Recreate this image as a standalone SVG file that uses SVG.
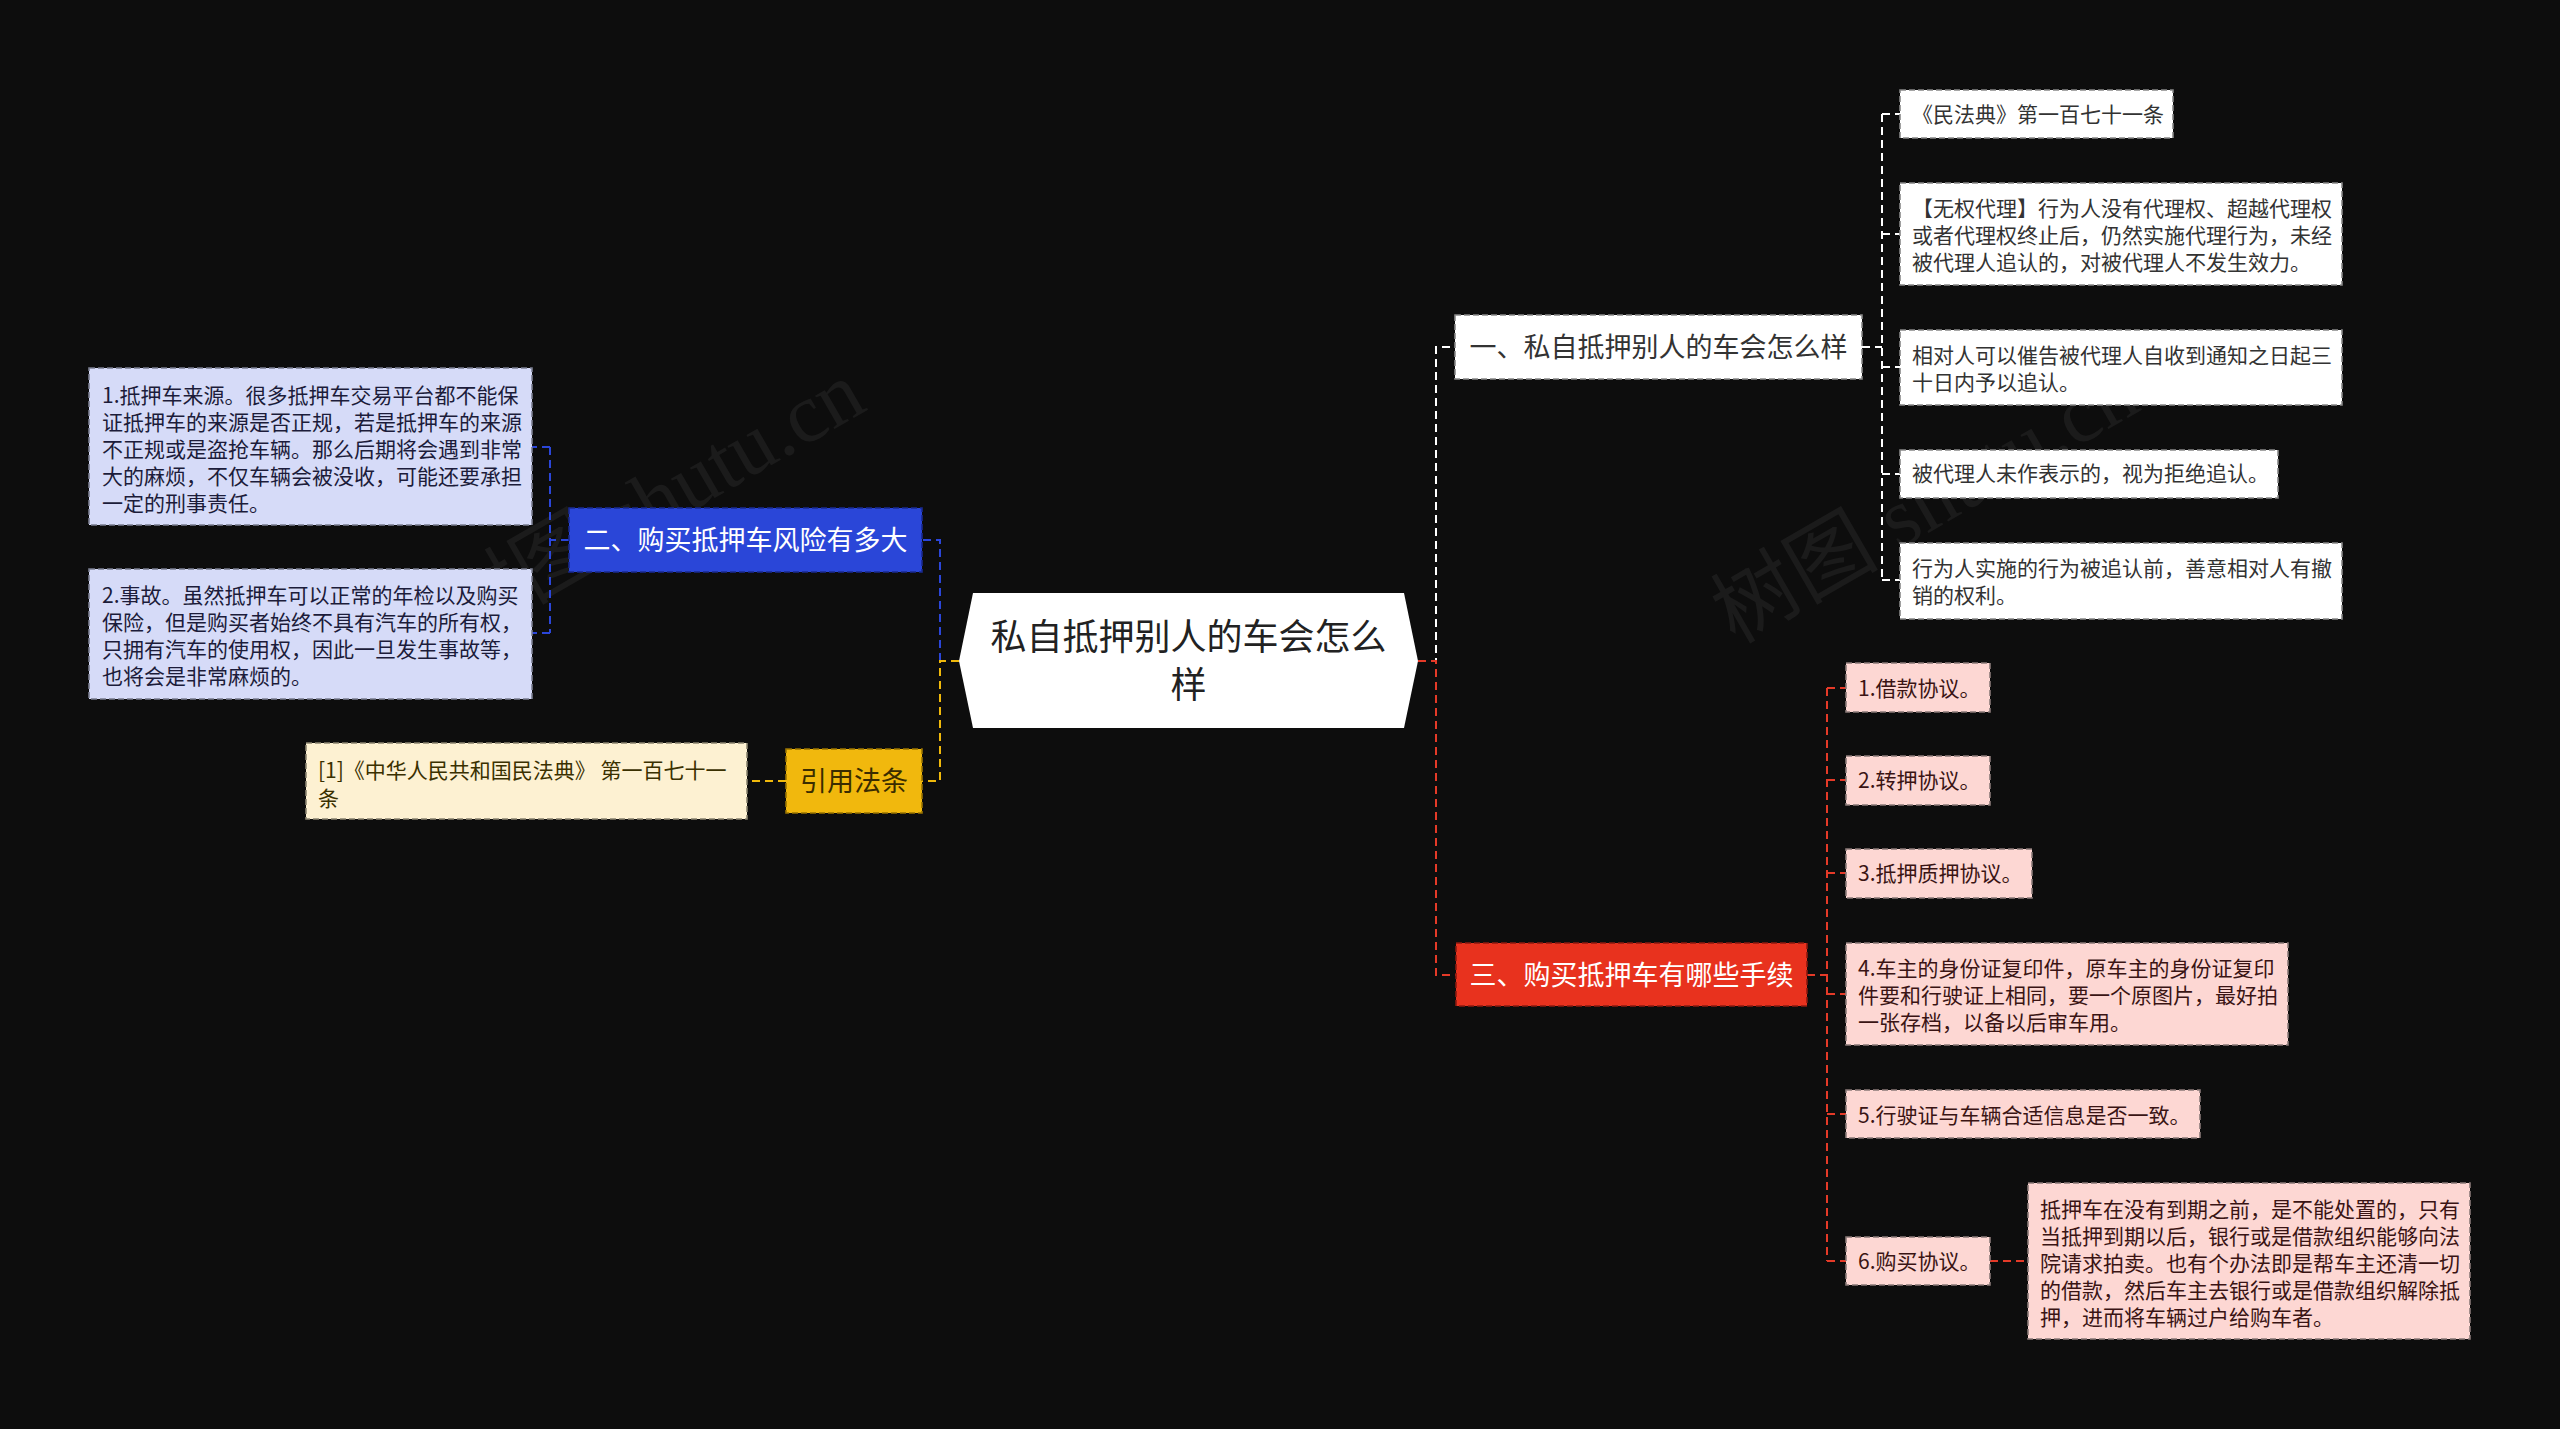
<svg xmlns="http://www.w3.org/2000/svg" width="2560" height="1429" viewBox="0 0 2560 1429">
<style>
text{font-family:"Noto Sans CJK SC","Noto Sans",sans-serif}
.c{fill:none;stroke-width:2;stroke-dasharray:8 5}
.cb{stroke:#2b46d9}.cy{stroke:#f0b90b}.cw{stroke:#ffffff}.cr{stroke:#e43a28}
.box{stroke-width:1.6;stroke-dasharray:6 3}
.d{font-size:21px}
.l1{font-size:27px}
.wm{font-family:"Liberation Serif","Noto Sans CJK SC",serif;font-size:84px;fill:#ffffff;fill-opacity:0.06}
</style>
<rect x="0" y="0" width="2560" height="1429" fill="#0d0d0d"/>
<g id="watermarks">
<text class="wm" x="653" y="530" text-anchor="middle" transform="rotate(-30 653 506)">树图 shutu.cn</text>
<text class="wm" x="1927" y="530" text-anchor="middle" transform="rotate(-30 1927 506)">树图 shutu.cn</text>
</g>
<g id="connectors">
<path class="c cb" d="M940,661 V540 H922"/>
<path class="c cy" d="M959,661 H940 V781 H922"/>
<path class="c cb" d="M569,540 H550 M550,447 V633 M550,447 H532 M550,633 H532"/>
<path class="c cy" d="M786,781 H747"/>
<path class="c cw" d="M1418,661 H1436 V347 H1455"/>
<path class="c cr" d="M1418,661 H1436 V975 H1456"/>
<path class="c cw" d="M1862,347 H1882 M1882,114 V580 M1882,114 H1900 M1882,234 H1900 M1882,367 H1900 M1882,474 H1900 M1882,580 H1900"/>
<path class="c cr" d="M1807,975 H1827 M1827,688 V1261 M1827,688 H1846 M1827,780 H1846 M1827,873 H1846 M1827,994 H1846 M1827,1114 H1846 M1827,1261 H1846 M1990,1261 H2028"/>
</g>
<g id="root">
<polygon points="973,593 1404,593 1418,661 1404,728 973,728 959,661" fill="#ffffff"/>
<text x="1188.5" y="650" text-anchor="middle" font-size="36" fill="#222222">私自抵押别人的车会怎么</text>
<text x="1188.5" y="698" text-anchor="middle" font-size="36" fill="#222222">样</text>
</g>
<g id="n2">
<rect class="box" x="569" y="508" width="353" height="64" fill="#2a46d8" stroke="#1a2a90"/>
<text class="l1" x="745.5" y="550" text-anchor="middle" fill="#ffffff">二、购买抵押车风险有多大</text>
</g>
<g id="n2a">
<rect class="box" x="89" y="368" width="443" height="157" fill="#d6dbf8" stroke="#7a7d90"/>
<text class="d" fill="#1c1c3a"><tspan x="102" y="403">1.抵押车来源。很多抵押车交易平台都不能保</tspan><tspan x="102" y="430">证抵押车的来源是否正规，若是抵押车的来源</tspan><tspan x="102" y="457">不正规或是盗抢车辆。那么后期将会遇到非常</tspan><tspan x="102" y="484">大的麻烦，不仅车辆会被没收，可能还要承担</tspan><tspan x="102" y="511">一定的刑事责任。</tspan></text>
</g>
<g id="n2b">
<rect class="box" x="89" y="569" width="443" height="130" fill="#d6dbf8" stroke="#7a7d90"/>
<text class="d" fill="#1c1c3a"><tspan x="102" y="603">2.事故。虽然抵押车可以正常的年检以及购买</tspan><tspan x="102" y="630">保险，但是购买者始终不具有汽车的所有权，</tspan><tspan x="102" y="657">只拥有汽车的使用权，因此一旦发生事故等，</tspan><tspan x="102" y="684">也将会是非常麻烦的。</tspan></text>
</g>
<g id="ref">
<rect class="box" x="786" y="749" width="136" height="64" fill="#f1b80d" stroke="#9a7400"/>
<text class="l1" x="854" y="791" text-anchor="middle" fill="#3a2c00">引用法条</text>
</g>
<g id="refa">
<rect class="box" x="306" y="743" width="441" height="76" fill="#fdf1d2" stroke="#8a8470"/>
<text class="d" fill="#3a3000"><tspan x="318" y="778">[1]《中华人民共和国民法典》 第一百七十一</tspan><tspan x="318" y="806">条</tspan></text>
</g>
<g id="n1">
<rect class="box" x="1455" y="315" width="407" height="64" fill="#ffffff" stroke="#888888"/>
<text class="l1" x="1658.5" y="357" text-anchor="middle" fill="#333333">一、私自抵押别人的车会怎么样</text>
</g>
<g id="n1a">
<rect class="box" x="1900" y="90" width="273" height="48" fill="#ffffff" stroke="#888888"/>
<text class="d" x="1912" y="122" fill="#333333">《民法典》第一百七十一条</text>
</g>
<g id="n1b">
<rect class="box" x="1900" y="183" width="442" height="102" fill="#ffffff" stroke="#888888"/>
<text class="d" fill="#333333"><tspan x="1912" y="216">【无权代理】行为人没有代理权、超越代理权</tspan><tspan x="1912" y="243">或者代理权终止后，仍然实施代理行为，未经</tspan><tspan x="1912" y="270">被代理人追认的，对被代理人不发生效力。</tspan></text>
</g>
<g id="n1c">
<rect class="box" x="1900" y="330" width="442" height="75" fill="#ffffff" stroke="#888888"/>
<text class="d" fill="#333333"><tspan x="1912" y="363">相对人可以催告被代理人自收到通知之日起三</tspan><tspan x="1912" y="390">十日内予以追认。</tspan></text>
</g>
<g id="n1d">
<rect class="box" x="1900" y="450" width="378" height="48" fill="#ffffff" stroke="#888888"/>
<text class="d" x="1912" y="481" fill="#333333">被代理人未作表示的，视为拒绝追认。</text>
</g>
<g id="n1e">
<rect class="box" x="1900" y="543" width="442" height="76" fill="#ffffff" stroke="#888888"/>
<text class="d" fill="#333333"><tspan x="1912" y="576">行为人实施的行为被追认前，善意相对人有撤</tspan><tspan x="1912" y="603">销的权利。</tspan></text>
</g>
<g id="n3">
<rect class="box" x="1456" y="943" width="351" height="63" fill="#e8321e" stroke="#8a1a10"/>
<text class="l1" x="1631.5" y="985" text-anchor="middle" fill="#ffffff">三、购买抵押车有哪些手续</text>
</g>
<g id="n3a">
<rect class="box" x="1846" y="663" width="144" height="49" fill="#fdd7d3" stroke="#8a7a78"/>
<text class="d" x="1858" y="696" fill="#3a1414">1.借款协议。</text>
</g>
<g id="n3b">
<rect class="box" x="1846" y="756" width="144" height="49" fill="#fdd7d3" stroke="#8a7a78"/>
<text class="d" x="1858" y="788" fill="#3a1414">2.转押协议。</text>
</g>
<g id="n3c">
<rect class="box" x="1846" y="849" width="186" height="49" fill="#fdd7d3" stroke="#8a7a78"/>
<text class="d" x="1858" y="881" fill="#3a1414">3.抵押质押协议。</text>
</g>
<g id="n3d">
<rect class="box" x="1846" y="943" width="442" height="102" fill="#fdd7d3" stroke="#8a7a78"/>
<text class="d" fill="#3a1414"><tspan x="1858" y="976">4.车主的身份证复印件，原车主的身份证复印</tspan><tspan x="1858" y="1003">件要和行驶证上相同，要一个原图片，最好拍</tspan><tspan x="1858" y="1030">一张存档，以备以后审车用。</tspan></text>
</g>
<g id="n3e">
<rect class="box" x="1846" y="1090" width="354" height="48" fill="#fdd7d3" stroke="#8a7a78"/>
<text class="d" x="1858" y="1123" fill="#3a1414">5.行驶证与车辆合适信息是否一致。</text>
</g>
<g id="n3f">
<rect class="box" x="1846" y="1237" width="144" height="48" fill="#fdd7d3" stroke="#8a7a78"/>
<text class="d" x="1858" y="1269" fill="#3a1414">6.购买协议。</text>
</g>
<g id="n3f1">
<rect class="box" x="2028" y="1183" width="442" height="156" fill="#fdd7d3" stroke="#8a7a78"/>
<text class="d" fill="#3a1414"><tspan x="2040" y="1217">抵押车在没有到期之前，是不能处置的，只有</tspan><tspan x="2040" y="1244">当抵押到期以后，银行或是借款组织能够向法</tspan><tspan x="2040" y="1271">院请求拍卖。也有个办法即是帮车主还清一切</tspan><tspan x="2040" y="1298">的借款，然后车主去银行或是借款组织解除抵</tspan><tspan x="2040" y="1325">押，进而将车辆过户给购车者。</tspan></text>
</g>
</svg>
